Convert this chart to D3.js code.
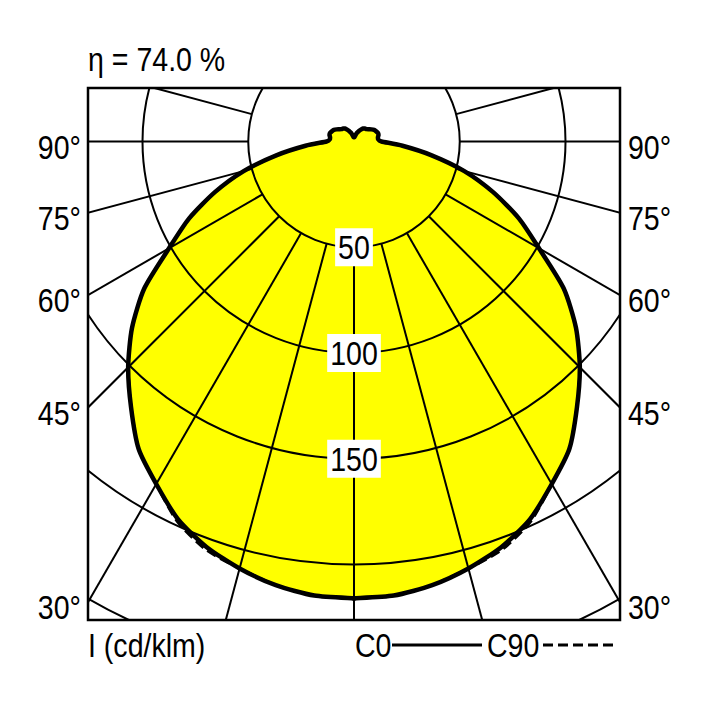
<!DOCTYPE html>
<head>
<meta charset="utf-8">
<style>
    body { margin: 0; background: #fff; }
    text {
        font-family: "Liberation Sans", Arial, sans-serif;
        font-size: 34px;
        fill: #000;
    }
</style>
</head>
<body>
    <script src="https://d3js.org/d3.v7.min.js"></script>
    <script>

    ///////////////////////////
    ////////// DATA ///////////
    ///////////////////////////

    const gammas = [0, 5, 10, 15, 20, 25, 30, 35, 40, 45, 50, 55, 60, 65, 70, 75, 80, 85, 90,
        95, 100, 105, 110, 115, 120, 125, 130, 135, 140, 145, 150, 155, 160, 165, 170, 175, 180];
    // C0 / C180 plane (cd/klm)
    const c0 = [216, 215.5, 213, 209, 204, 197, 187, 177.5, 164, 151, 137, 121, 101, 86, 70, 54, 37, 23, 13,
        11.5, 11.5, 12, 12, 11.5, 11, 10, 9, 8.3, 8, 7.5, 6.5, 5.5, 4.5, 3.5, 2.5, 2, 2];
    // C90 / C270 plane (cd/klm)
    const c90 = [216, 215.5, 213, 209, 205.2, 198, 187, 177.5, 164, 151, 137, 121, 101, 86, 70, 54, 37, 23, 13,
        11.5, 11.5, 12, 12, 11.5, 11, 10, 9, 8.3, 8, 7.5, 6.5, 5.5, 4.5, 3.5, 2.5, 2, 2];

    const ringValues = [50, 100, 150, 200, 250];
    const ringLabels = [50, 100, 150];
    const spokeAngles = d3.range(-180, 181, 15);
    const sideLabels = [90, 75, 60, 45, 30];
    const efficiency = 'η = 74.0 %';
    const unitLabel = 'I (cd/klm)';

    ///////////////////////////
    ////////// SETUP //////////
    ///////////////////////////

    const W = 708, H = 708;
    const box = { x: 88, y: 88, size: 532 };
    const ox = box.x + box.size / 2;
    const oy = box.y + 53.5;
    const narrow = 0.84;   // squeeze the font to look like a condensed face

    const svg = d3.select('body').append('svg')
        .attr('width', W)
        .attr('height', H);

    svg.append('clipPath').attr('id', 'clip')
        .append('rect')
        .attr('x', box.x).attr('y', box.y)
        .attr('width', box.size).attr('height', box.size);

    const r = d3.scaleLinear().domain([0, 250]).range([0, 528.75]);
    const rad = d => d * Math.PI / 180;
    const at = (x, y) => 'translate(' + x + ',' + y + ') scale(' + narrow + ',1)';

    const plot = svg.append('g').attr('clip-path', 'url(#clip)');
    const base = plot.append('g').attr('transform', 'translate(' + ox + ',' + oy + ')');

    // full closed curve: right half (C0) then mirrored left half (C180)
    function fullCurve(vals) {
        const right = gammas.map((g, i) => [Math.PI - rad(g), r(vals[i])]);
        const left = gammas.map((g, i) => [Math.PI + rad(g), r(vals[i])]).reverse();
        return right.concat(left);
    }

    const line = d3.lineRadial().curve(d3.curveCardinalClosed.tension(0.3));

    //////////////////////////
    ////////// DRAW //////////
    //////////////////////////

    // fill
    base.append('path')
        .attr('d', line(fullCurve(c0)))
        .attr('fill', '#ffff00')
        .attr('stroke', 'none');

    // rings
    base.selectAll('circle.ring')
        .data(ringValues)
        .enter().append('circle')
        .attr('class', 'ring')
        .attr('r', d => r(d))
        .attr('fill', 'none')
        .attr('stroke', '#000')
        .attr('stroke-width', 2);

    // spokes, from the 50 ring outward
    base.selectAll('line.spoke')
        .data(spokeAngles)
        .enter().append('line')
        .attr('class', 'spoke')
        .attr('x1', d => r(50) * Math.sin(rad(d)))
        .attr('y1', d => r(50) * Math.cos(rad(d)))
        .attr('x2', d => 900 * Math.sin(rad(d)))
        .attr('y2', d => 900 * Math.cos(rad(d)))
        .attr('stroke', '#000')
        .attr('stroke-width', 2);

    // C90 dashed
    base.append('path')
        .attr('d', line(fullCurve(c90)))
        .attr('fill', 'none')
        .attr('stroke', '#000')
        .attr('stroke-width', 3)
        .attr('stroke-dasharray', '10,5');

    // C0 solid
    base.append('path')
        .attr('d', line(fullCurve(c0)))
        .attr('fill', 'none')
        .attr('stroke', '#000')
        .attr('stroke-width', 4.5)
        .attr('stroke-linejoin', 'round');

    // ring labels with white backing
    const rl = base.selectAll('g.rlabel')
        .data(ringLabels)
        .enter().append('g')
        .attr('class', 'rlabel')
        .attr('transform', d => 'translate(0,' + r(d) + ')');
    rl.append('text')
        .attr('text-anchor', 'middle')
        .attr('transform', 'scale(' + narrow + ',1)')
        .attr('dy', '0.36em')
        .text(d => d);
    rl.each(function() {
        const g = d3.select(this);
        const bb = g.select('text').node().getBBox();
        const w = bb.width * narrow;
        g.insert('rect', 'text')
            .attr('x', -w / 2 - 3).attr('y', -19)
            .attr('width', w + 6).attr('height', 38)
            .attr('fill', '#fff');
    });

    // box
    svg.append('rect')
        .attr('x', box.x).attr('y', box.y)
        .attr('width', box.size).attr('height', box.size)
        .attr('fill', 'none')
        .attr('stroke', '#000')
        .attr('stroke-width', 2.5);

    // side angle labels
    const sideY = d => oy + (box.size / 2) * Math.cos(rad(d)) / Math.sin(rad(d));
    svg.selectAll('text.left')
        .data(sideLabels)
        .enter().append('text')
        .attr('transform', d => at(box.x - 7, sideY(d) + 17))
        .attr('text-anchor', 'end')
        .text(d => d + '°');
    svg.selectAll('text.right')
        .data(sideLabels)
        .enter().append('text')
        .attr('transform', d => at(box.x + box.size + 8, sideY(d) + 17))
        .text(d => d + '°');

    // title and footer
    svg.append('text').attr('transform', at(box.x, 71)).text(efficiency);
    svg.append('text').attr('transform', at(box.x, 657)).text(unitLabel);

    svg.append('text').attr('transform', at(355, 657)).text('C0');
    svg.append('line')
        .attr('x1', 392).attr('x2', 482).attr('y1', 645).attr('y2', 645)
        .attr('stroke', '#000').attr('stroke-width', 3);
    svg.append('text').attr('transform', at(487, 657)).text('C90');
    svg.append('line')
        .attr('x1', 543).attr('x2', 616).attr('y1', 645).attr('y2', 645)
        .attr('stroke', '#000').attr('stroke-width', 3)
        .attr('stroke-dasharray', '10,5');

    </script>
</body>
